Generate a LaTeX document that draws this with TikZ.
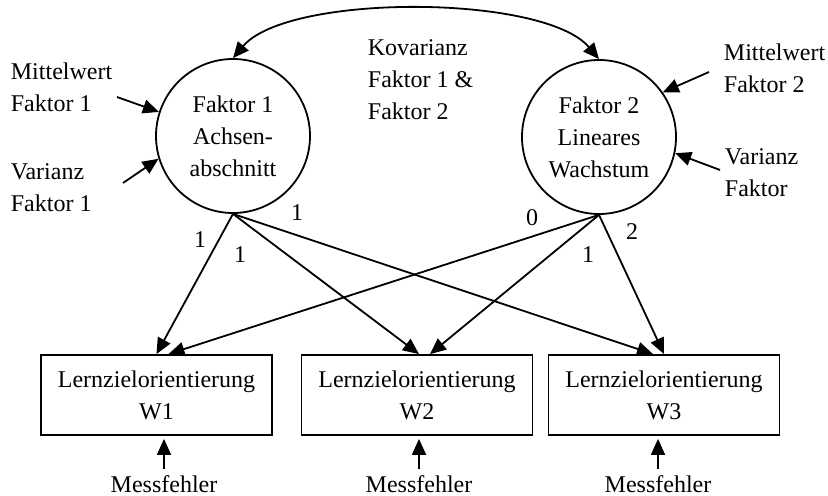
\documentclass[tikz,border=0pt]{standalone}
\usepackage{fontspec}
\setmainfont{Liberation Serif}
\usetikzlibrary{arrows.meta}

\begin{document}
\begin{tikzpicture}[x=0.5pt,y=-0.5pt,line width=0.9pt,
  every node/.style={font=\fontsize{12}{16}\selectfont},
  >={Triangle[length=8pt,width=7pt]},
  factor/.style={draw,circle,minimum size=77pt,inner sep=0pt,align=center},
  item/.style={draw,minimum width=115.5pt,minimum height=40pt,align=center},
  note/.style={align=left,anchor=base west,inner sep=0pt},
  error/.style={anchor=base,inner sep=0pt},
  load/.style={inner sep=0pt}]
  \useasboundingbox (0,0) rectangle (828,496);
  % latent factors
  \node[factor] (f1) at (233,136) {Faktor 1\\Achsen-\\abschnitt};
  \node[factor] (f2) at (599,137) {Faktor 2\\Lineares\\Wachstum};
  \draw[<->] (f1.north) .. controls +(55,-65) and +(-55,-65) .. (f2.north);
  \node[note] (cov) at (367,120) {Kovarianz\\Faktor 1 \&\\Faktor 2};
  % means and variances (base = last line)
  \node[note] (m1) at (10,112) {Mittelwert\\Faktor 1};
  \node[note] (v1) at (10,212) {Varianz\\Faktor 1};
  \node[note] (m2) at (723,93) {Mittelwert\\Faktor 2};
  \node[note] (v2) at (724,197) {Varianz\\Faktor};
  \coordinate (m1e) at (117,97);
  \coordinate (v1e) at (123,183);
  \coordinate (m2e) at (709,72);
  \coordinate (v2e) at (720,170);
  \draw[->] (m1e) -- (f1.162);
  \draw[->] (v1e) -- (f1.197);
  \draw[->] (m2e) -- (f2.35);
  \draw[->] (v2e) -- (f2.-12);
  % measurements
  \node[item] (b1) at (156.5,395) {Lernzielorientierung\\W1};
  \node[item] (b2) at (417,395) {Lernzielorientierung\\W2};
  \node[item] (b3) at (664,395) {Lernzielorientierung\\W3};
  \draw[->] (f1.south) -- (b1.north);
  \draw[->] (f1.south) -- ([xshift=1pt]b2.north);
  \draw[->] (f1.south) -- ([xshift=-5.5pt]b3.north);
  \draw[->] (f2.south) -- ([xshift=6pt]b1.north);
  \draw[->] (f2.south) -- ([xshift=6.5pt]b2.north);
  \draw[->] (f2.south) -- (b3.north);
  % loadings
  \node[load] (l11) at (200,240) {1};
  \node[load] (l12) at (240,255) {1};
  \node[load] (l13) at (297,213) {1};
  \node[load] (l21) at (532,218) {0};
  \node[load] (l22) at (588,255) {1};
  \node[load] (l23) at (632,232) {2};
  % errors
  \node[error] (e1) at (164,492) {Messfehler};
  \node[error] (e2) at (419,492) {Messfehler};
  \node[error] (e3) at (658,492) {Messfehler};
  \draw[->,shorten <=2.5pt,shorten >=1.5pt] (e1) -- (e1 |- b1.south);
  \draw[->,shorten <=2.5pt,shorten >=1.5pt] (e2) -- (e2 |- b2.south);
  \draw[->,shorten <=2.5pt,shorten >=1.5pt] (e3) -- (e3 |- b3.south);
\end{tikzpicture}
\end{document}
